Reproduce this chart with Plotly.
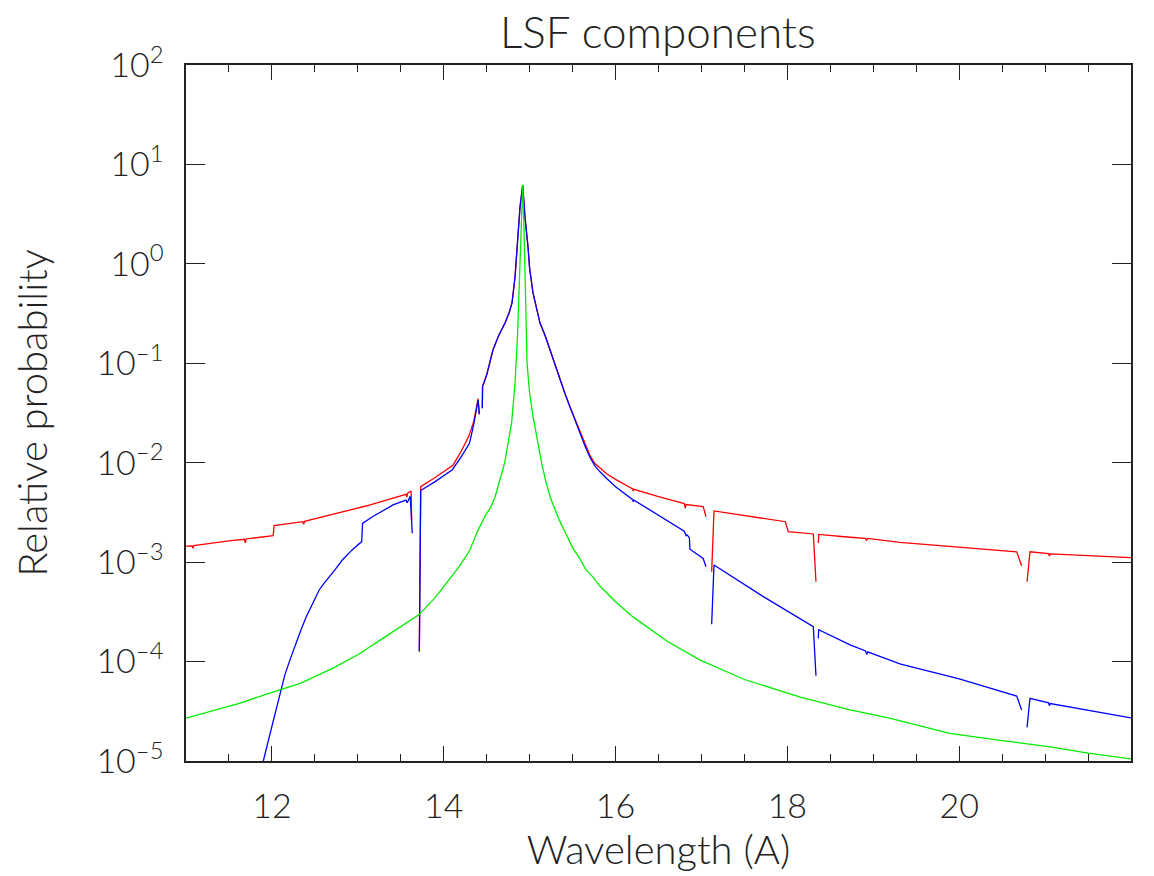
import plotly.graph_objects as go

# ---------------- data ----------------
red_wl = [11.0, 11.07, 11.08, 11.09, 11.5, 11.68, 11.69, 11.70, 12.015, 12.025,
          12.36, 12.37, 12.38, 13.095, 13.56, 13.57, 13.58, 13.62, 13.627, 13.67,
          13.716, 13.732, 13.9, 14.11, 14.2, 14.29, 14.35, 14.40, 14.414, 14.43,
          14.449, 14.452, 14.50, 14.573, 14.64, 14.713, 14.76, 14.795, 14.83, 14.853,
          14.888, 14.919, 14.946, 14.981, 15.0, 15.039, 15.08, 15.121, 15.18, 15.237,
          15.29, 15.353, 15.41, 15.47, 15.53, 15.586, 15.645, 15.703, 15.76, 15.819,
          15.9, 16.0, 16.20, 16.207, 16.215, 16.5, 16.789, 16.80, 16.81, 16.82,
          17.02, 17.053, 17.09, 17.119, 17.146, 17.977, 18.01, 18.302, 18.333, 18.345,
          18.36, 18.365, 18.73, 18.91, 18.923, 18.935, 19.31, 20.67, 20.727, 20.76,
          20.79, 20.824, 21.04, 21.05, 21.06, 22.0]
red_val = [1.45e-3, 1.46e-3, 1.38e-3, 1.47e-3, 1.64e-3, 1.70e-3, 1.56e-3, 1.71e-3, 1.85e-3, 2.33e-3,
           2.55e-3, 2.40e-3, 2.57e-3, 3.67e-3, 4.81e-3, 4.5e-3, 4.95e-3, 5.2e-3, 2.65e-3, None,
           1.26e-4, 5.75e-3, 7.1e-3, 9.5e-3, 1.29e-2, 1.83e-2, 2.6e-2, 4.4e-2, 3.07e-2, None,
           3.53e-2, 5.9e-2, 7.7e-2, 0.136, 0.19, 0.254, 0.32, 0.404, 0.738, 1.38,
           3.73, 6.2, 2.96, 1.48, 0.9, 0.51, 0.36, 0.254, 0.19, 0.136,
           0.097, 0.068, 0.05, 0.0363, 0.027, 0.0205, 0.015, 0.0118, 0.0098, 8.85e-3,
           7.7e-3, 6.8e-3, 5.45e-3, 5.2e-3, 5.4e-3, 4.57e-3, 3.9e-3, 3.88e-3, 3.5e-3, 3.8e-3,
           3.62e-3, 2.86e-3, None, 8.0e-4, 3.27e-3, 2.55e-3, 2.03e-3, 1.92e-3, 6.35e-4, None,
           1.56e-3, 1.9e-3, 1.78e-3, 1.73e-3, 1.66e-3, 1.73e-3, 1.58e-3, 1.27e-3, 9.2e-4, None,
           6.35e-4, 1.27e-3, 1.22e-3, 1.15e-3, 1.21e-3, 1.11e-3]

blue_wl = [11.85, 11.90, 11.95, 11.998, 12.05, 12.094, 12.15, 12.21, 12.28, 12.34,
           12.40, 12.47, 12.55, 12.6, 12.67, 12.74, 12.82, 12.93, 13.045, 13.055,
           13.17, 13.41, 13.56, 13.575, 13.61, 13.634, 13.67, 13.716, 13.732, 13.9,
           14.10, 14.2, 14.30, 14.35, 14.40, 14.414, 14.43, 14.449, 14.452, 14.50,
           14.573, 14.64, 14.713, 14.76, 14.795, 14.83, 14.853, 14.888, 14.919, 14.946,
           14.981, 15.0, 15.039, 15.08, 15.121, 15.18, 15.237, 15.29, 15.353, 15.41,
           15.47, 15.53, 15.586, 15.645, 15.703, 15.76, 15.819, 15.9, 16.0, 16.20,
           16.207, 16.215, 16.5, 16.789, 16.80, 16.82, 16.835, 16.86, 16.866, 17.02,
           17.053, 17.09, 17.119, 17.146, 17.72, 18.302, 18.333, 18.345, 18.36, 18.365,
           18.73, 18.91, 18.923, 18.935, 19.31, 20.0, 20.67, 20.727, 20.76, 20.79,
           20.824, 21.04, 21.05, 21.06, 22.0]
blue_val = [6.0e-6, 1.0e-5, 1.5e-5, 2.2e-5, 3.4e-5, 5.0e-5, 7.3e-5, 1.04e-4, 1.54e-4, 2.1e-4,
            2.83e-4, 3.8e-4, 5.25e-4, 6.0e-4, 7.1e-4, 8.5e-4, 1.05e-3, 1.32e-3, 1.61e-3, 2.45e-3,
            2.86e-3, 3.76e-3, 4.2e-3, 3.95e-3, 4.6e-3, 1.95e-3, None, 1.26e-4, 5.25e-3, 6.45e-3,
            8.5e-3, 1.13e-2, 1.57e-2, 2.45e-2, 4.27e-2, 3.07e-2, None, 3.53e-2, 5.8e-2, 7.6e-2,
            0.136, 0.19, 0.254, 0.32, 0.404, 0.738, 1.38, 3.73, 6.2, 2.96,
            1.48, 0.9, 0.51, 0.36, 0.254, 0.19, 0.136, 0.097, 0.068, 0.05,
            0.0363, 0.027, 0.0199, 0.0146, 0.0113, 0.0093, 8.1e-3, 6.9e-3, 5.74e-3, 4.25e-3,
            4.05e-3, 4.2e-3, 2.98e-3, 2.1e-3, 2.05e-3, 1.85e-3, 1.87e-3, 1.75e-3, 1.35e-3, 1.09e-3,
            9.0e-4, None, 2.37e-4, 9.35e-4, 4.5e-4, 2.24e-4, 7.2e-5, None, 1.71e-4, 2.09e-4,
            1.47e-4, 1.28e-4, 1.18e-4, 1.25e-4, 9.5e-5, 6.7e-5, 4.5e-5, 3.26e-5, None, 2.18e-5,
            4.27e-5, 3.85e-5, 3.6e-5, 3.78e-5, 2.72e-5]

green_wl = [11.0, 11.5, 11.63, 12.0, 12.33, 12.7, 13.0, 13.3, 13.5, 13.71,
            13.9, 14.05, 14.18, 14.3, 14.4, 14.49, 14.55, 14.6, 14.64, 14.68,
            14.71, 14.75, 14.79, 14.83, 14.86, 14.88, 14.90, 14.919, 14.935, 14.95,
            14.97, 14.985, 15.0, 15.04, 15.09, 15.14, 15.19, 15.24, 15.3, 15.35,
            15.42, 15.5, 15.58, 15.65, 15.73, 15.82, 15.9, 16.0, 16.2, 16.6,
            16.98, 17.5, 18.15, 18.73, 19.19, 19.89, 20.5, 21.06, 21.5, 22.0]
green_val = [2.7e-5, 3.55e-5, 3.83e-5, 4.9e-5, 6.05e-5, 8.5e-5, 1.17e-4, 1.73e-4, 2.24e-4, 2.95e-4,
             4.4e-4, 6.5e-4, 9.0e-4, 1.3e-3, 2.1e-3, 3.0e-3, 3.6e-3, 4.6e-3, 6.0e-3, 8.0e-3,
             1.0e-2, 1.6e-2, 2.5e-2, 6.3e-2, 0.2, 0.64, 2.2, 6.2, 2.2, 0.64,
             0.1, 0.07, 0.05, 0.029, 0.0165, 9.9e-3, 6.4e-3, 4.5e-3, 3.3e-3, 2.6e-3,
             1.95e-3, 1.4e-3, 1.1e-3, 8.5e-4, 7.2e-4, 5.7e-4, 4.9e-4, 4.0e-4, 2.83e-4, 1.6e-4,
             1.04e-4, 6.6e-5, 4.4e-5, 3.26e-5, 2.7e-5, 1.9e-5, 1.6e-5, 1.39e-5, 1.2e-5, 1.05e-5]

x_ticks = [12, 14, 16, 18, 20]
y_ticks = [1e-5, 1e-4, 1e-3, 1e-2, 1e-1, 1e0, 1e1, 1e2]
y_ticktext = ["10<sup>\u20135</sup>", "10<sup>\u20134</sup>", "10<sup>\u20133</sup>",
              "10<sup>\u20132</sup>", "10<sup>\u20131</sup>", "10<sup>0</sup>",
              "10<sup>1</sup>", "10<sup>2</sup>"]

# ---------------- figure ----------------
FONT = "Lato, DejaVu Sans, sans-serif"
TXT = "#222222"
W_ = 300

fig = go.Figure()
fig.add_trace(go.Scatter(x=red_wl, y=red_val, mode="lines",
                         line=dict(color="#ff0000", width=1.3), connectgaps=False))
fig.add_trace(go.Scatter(x=blue_wl, y=blue_val, mode="lines",
                         line=dict(color="#0000ff", width=1.3), connectgaps=False))
fig.add_trace(go.Scatter(x=green_wl, y=green_val, mode="lines",
                         line=dict(color="#00ee00", width=1.3)))

fig.update_layout(
    width=1146, height=868,
    margin=dict(l=178, r=23, t=57, b=115),
    paper_bgcolor="white", plot_bgcolor="white",
    showlegend=False,
    font=dict(family=FONT, color=TXT, weight=W_),
    title=dict(text="LSF components", x=0.567, xanchor="center", y=0.972, yanchor="middle",
               font=dict(size=44, family=FONT, color=TXT, weight=W_)),
)
fig.update_xaxes(
    range=[11, 22], tickmode="array", tickvals=x_ticks,
    ticks="inside", ticklen=15, tickwidth=1.2, tickcolor="#222",
    showline=True, linecolor="#222", linewidth=1.5, mirror="allticks",
    showgrid=False, zeroline=False,
    tickfont=dict(size=34, family=FONT, color=TXT, weight=W_),
    ticklabelstandoff=14,
    minor=dict(tick0=11, dtick=0.5, ticks="inside", ticklen=7, tickcolor="#222", tickwidth=1.2, showgrid=False),
    title=dict(text="Wavelength (A)", font=dict(size=40, family=FONT, color=TXT, weight=W_), standoff=12),
)
fig.update_yaxes(
    type="log", range=[-5, 2], tickmode="array", tickvals=y_ticks, ticktext=y_ticktext,
    ticks="inside", ticklen=19, tickwidth=1.2, tickcolor="#222",
    showline=True, linecolor="#222", linewidth=1.5, mirror="allticks",
    showgrid=False, zeroline=False,
    tickfont=dict(size=34, family=FONT, color=TXT, weight=W_),
    ticklabelstandoff=14,
    title=dict(text="Relative probability", font=dict(size=40, family=FONT, color=TXT, weight=W_), standoff=46),
)

fig.write_html("out.html")
